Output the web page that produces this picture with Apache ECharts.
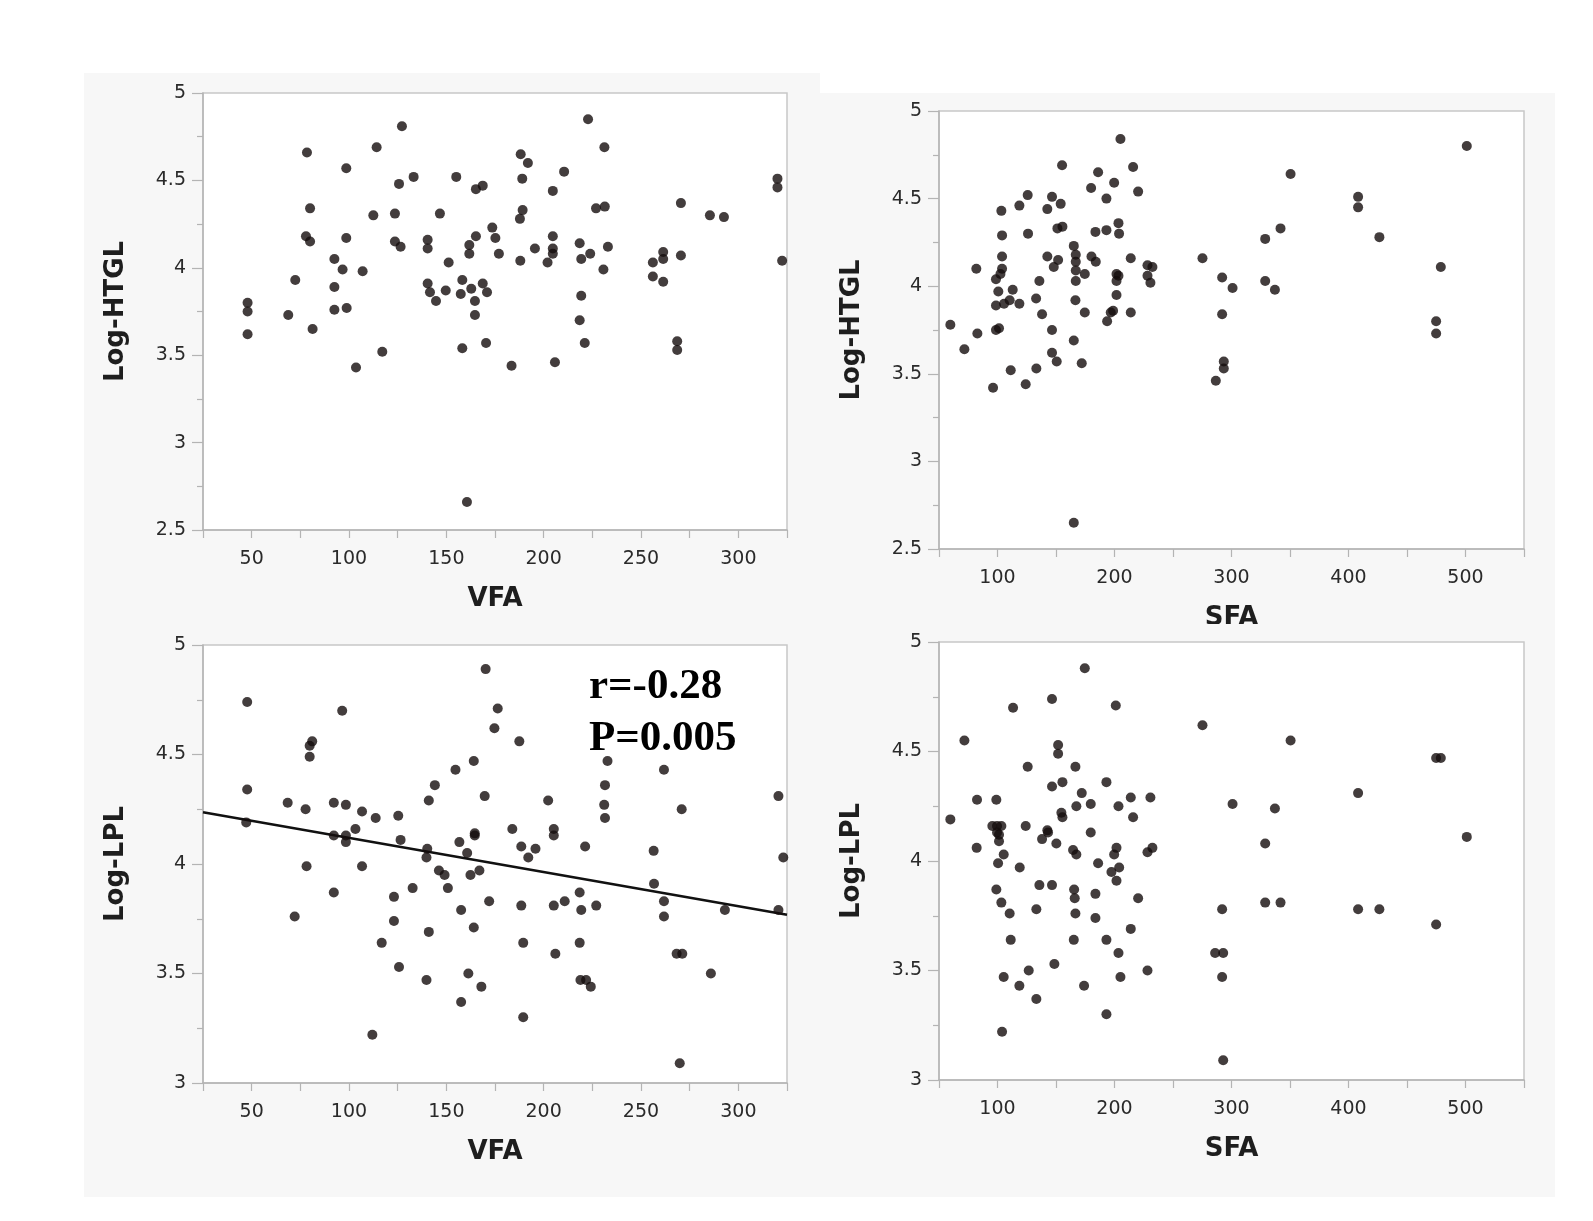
<!DOCTYPE html>
<html>
<head>
<meta charset="utf-8">
<title>VFA / SFA vs Log-HTGL / Log-LPL</title>
<script src="https://cdn.jsdelivr.net/npm/echarts@6/dist/echarts.min.js"></script>
<style>
	html, body { margin: 0; padding: 0; background: #fff; }
	#chart { width: 1593px; height: 1221px; }
</style>
</head>
<body>
<div id="chart"></div>
<script type="text/javascript">
	// VFA - Log-HTGL (top left)
	var vfaHtgl = [
		[47.9,3.80],[47.9,3.75],[47.9,3.62],[68.8,3.73],[72.4,3.93],[78.4,4.66],[80.0,4.34],[77.9,4.18],
		[80.0,4.15],[81.3,3.65],[92.5,4.05],[96.7,3.99],[92.5,3.89],[92.5,3.76],[98.8,3.77],[98.6,4.57],
		[98.6,4.17],[107.0,3.98],[103.6,3.43],[114.2,4.69],[112.5,4.30],[117.1,3.52],[127.2,4.81],[125.7,4.48],
		[123.6,4.31],[123.6,4.15],[126.5,4.12],[133.2,4.52],[140.4,4.16],[140.4,4.11],[146.7,4.31],[151.2,4.03],
		[140.4,3.91],[141.6,3.86],[144.7,3.81],[149.7,3.87],[155.1,4.52],[158.2,3.93],[157.4,3.85],[158.2,3.54],
		[162.8,3.88],[164.7,3.81],[164.7,3.73],[161.8,4.13],[161.8,4.08],[165.2,4.18],[165.2,4.45],[168.7,4.47],
		[168.7,3.91],[170.9,3.86],[170.4,3.57],[173.6,4.23],[175.2,4.17],[177.0,4.08],[183.5,3.44],[188.2,4.65],
		[191.9,4.60],[189.0,4.51],[189.2,4.33],[187.8,4.28],[188.0,4.04],[195.5,4.11],[204.7,4.44],[210.5,4.55],
		[204.7,4.18],[204.7,4.11],[204.7,4.08],[202.0,4.03],[205.8,3.46],[222.8,4.85],[231.2,4.69],[226.9,4.34],
		[231.4,4.35],[218.5,4.14],[223.9,4.08],[219.3,4.05],[233.0,4.12],[230.7,3.99],[219.3,3.84],[218.5,3.70],
		[221.1,3.57],[270.5,4.37],[256.1,4.03],[261.4,4.09],[261.4,4.05],[270.5,4.07],[256.1,3.95],[261.4,3.92],
		[268.6,3.58],[268.6,3.53],[285.4,4.30],[292.6,4.29],[320.1,4.51],[320.1,4.46],[322.5,4.04],[160.6,2.66]
	];

	// SFA - Log-HTGL (top right)
	var sfaHtgl = [
		[59.7,3.78],[71.7,3.64],[81.9,4.10],[82.8,3.73],[96.2,3.42],[98.7,3.89],[98.7,3.75],[101.3,3.76],
		[98.7,4.04],[103.3,4.43],[103.9,4.29],[103.9,4.17],[103.9,4.10],[102.5,4.07],[100.7,3.97],[105.6,3.90],
		[110.4,3.92],[113.0,3.98],[111.3,3.52],[118.7,3.90],[118.7,4.46],[125.8,4.52],[126.1,4.30],[124.1,3.44],
		[133.0,3.93],[135.8,4.03],[138.1,3.84],[133.2,3.53],[142.6,4.44],[142.6,4.17],[146.6,4.51],[154.0,4.47],
		[155.2,4.69],[151.2,4.33],[155.5,4.34],[151.8,4.15],[148.1,4.11],[146.6,3.75],[146.6,3.62],[150.6,3.57],
		[165.2,4.23],[166.9,4.18],[166.9,4.14],[166.9,4.09],[166.9,4.03],[174.6,4.07],[166.6,3.92],[165.2,3.69],
		[174.6,3.85],[172.0,3.56],[165.2,2.65],[180.0,4.56],[186.0,4.65],[183.7,4.31],[180.3,4.17],[184.0,4.14],
		[193.1,4.50],[193.1,4.32],[199.7,4.59],[205.1,4.84],[203.4,4.36],[203.9,4.30],[201.7,4.07],[203.4,4.06],
		[201.7,4.03],[201.7,3.95],[198.8,3.86],[196.8,3.85],[193.7,3.80],[213.9,3.85],[213.9,4.16],[215.9,4.68],
		[220.2,4.54],[228.2,4.12],[232.4,4.11],[228.2,4.06],[230.7,4.02],[275.2,4.16],[292.0,4.05],[300.9,3.99],
		[292.0,3.84],[293.4,3.57],[293.4,3.53],[286.6,3.46],[328.8,4.27],[328.8,4.03],[341.9,4.33],[337.1,3.98],
		[350.5,4.64],[408.2,4.51],[408.2,4.45],[426.4,4.28],[478.9,4.11],[474.9,3.80],[474.9,3.73],[501.1,4.80]
	];

	// VFA - Log-LPL (bottom left)
	var vfaLpl = [
		[47.7,4.74],[47.7,4.34],[47.2,4.19],[68.5,4.28],[72.1,3.76],[77.7,4.25],[78.2,3.99],[79.8,4.49],
		[79.8,4.54],[81.1,4.56],[92.2,4.28],[92.2,4.13],[92.2,3.87],[96.5,4.70],[98.4,4.27],[98.4,4.13],
		[98.4,4.10],[103.3,4.16],[106.7,4.24],[106.7,3.99],[113.7,4.21],[112.0,3.22],[116.8,3.64],[123.1,3.85],
		[123.1,3.74],[125.3,4.22],[126.5,4.11],[125.7,3.53],[132.7,3.89],[139.8,3.47],[141.0,4.29],[141.0,3.69],
		[140.2,4.07],[139.8,4.03],[144.1,4.36],[146.2,3.97],[149.1,3.95],[150.8,3.89],[154.7,4.43],[156.7,4.10],
		[157.6,3.79],[157.6,3.37],[160.7,4.05],[162.4,3.95],[161.3,3.50],[164.1,4.47],[164.6,4.14],[164.6,4.13],
		[164.1,3.71],[170.2,4.89],[176.4,4.71],[174.7,4.62],[187.5,4.56],[169.7,4.31],[167.0,3.97],[172.0,3.83],
		[168.0,3.44],[183.9,4.16],[188.5,4.08],[192.1,4.03],[195.8,4.07],[188.5,3.81],[189.5,3.64],[189.5,3.30],
		[202.3,4.29],[205.2,4.16],[205.2,4.13],[205.2,3.81],[210.8,3.83],[206.0,3.59],[221.3,4.08],[218.5,3.87],
		[219.3,3.79],[227.0,3.81],[218.5,3.64],[218.9,3.47],[221.8,3.47],[224.2,3.44],[232.8,4.47],[231.5,4.36],
		[231.1,4.27],[231.5,4.21],[261.8,4.43],[256.5,4.06],[256.7,3.91],[261.8,3.83],[261.8,3.76],[270.9,4.25],
		[268.3,3.59],[271.2,3.59],[269.9,3.09],[285.9,3.50],[293.1,3.79],[320.6,4.31],[323.1,4.03],[320.6,3.79]
	];

	// SFA - Log-LPL (bottom right)
	var sfaLpl = [
		[59.7,4.19],[71.7,4.55],[82.5,4.28],[82.2,4.06],[99.0,4.28],[95.6,4.16],[99.6,4.16],[103.3,4.16],
		[99.6,4.13],[101.3,4.12],[101.3,4.09],[105.3,4.03],[100.5,3.99],[99.0,3.87],[103.3,3.81],[110.4,3.76],
		[111.3,3.64],[105.3,3.47],[103.9,3.22],[113.3,4.70],[125.8,4.43],[124.1,4.16],[119.0,3.97],[118.7,3.43],
		[126.7,3.50],[133.2,3.37],[133.2,3.78],[135.8,3.89],[146.6,3.89],[146.6,4.74],[151.8,4.53],[151.8,4.49],
		[146.6,4.34],[155.5,4.36],[154.6,4.22],[155.5,4.20],[142.6,4.14],[143.2,4.13],[138.1,4.10],[150.3,4.08],
		[148.6,3.53],[166.6,4.43],[172.0,4.31],[167.4,4.25],[179.7,4.26],[179.7,4.13],[164.6,4.05],[167.4,4.03],
		[186.0,3.99],[165.5,3.87],[166.0,3.83],[166.6,3.76],[183.7,3.85],[183.7,3.74],[165.2,3.64],[174.0,3.43],
		[174.6,4.88],[193.1,4.36],[201.1,4.71],[203.4,4.25],[215.9,4.20],[213.9,4.29],[230.7,4.29],[201.7,4.06],
		[199.7,4.03],[204.0,3.97],[197.4,3.95],[201.7,3.91],[220.2,3.83],[213.9,3.69],[193.1,3.64],[203.4,3.58],
		[205.1,3.47],[193.1,3.30],[228.2,3.50],[228.2,4.04],[232.4,4.06],[275.2,4.62],[300.9,4.26],[292.0,3.78],
		[286.0,3.58],[292.9,3.58],[292.0,3.47],[292.9,3.09],[350.5,4.55],[337.1,4.24],[328.8,4.08],[328.8,3.81],
		[341.9,3.81],[408.2,4.31],[408.2,3.78],[426.4,3.78],[474.9,4.47],[478.9,4.47],[474.9,3.71],[501.1,4.11]
	];

	// 回归直线 (VFA - Log-LPL)
	var fitX = [25, 325];
	var fitY = [4.236, 3.768];

	// 刻度标签
	var vfaLabels = [50, 100, 150, 200, 250, 300];
	var sfaLabels = [100, 200, 300, 400, 500];

	var axisGray = '#b4b4b4';
	var labelFont = 'DejaVu Sans';

	// x 轴
	function makeX(grid, name, min, max, step, labels, z) {
		return {
			type: 'value', gridIndex: grid, min: min, max: max, interval: step, z: z,
			name: name, nameLocation: 'middle', nameGap: 56,
			nameTextStyle: { fontFamily: labelFont, fontWeight: 'bold', fontSize: 26, color: '#1e1e1e' },
			axisLine: { show: true, lineStyle: { color: axisGray, width: 1.5 } },
			axisTick: { show: true, length: 8, lineStyle: { color: axisGray, width: 1.2 } },
			axisLabel: {
				margin: 19.5, fontFamily: labelFont, fontSize: 19, color: '#2a2a2a',
				formatter: function (v) { return labels.indexOf(v) >= 0 ? String(v) : ''; }
			},
			splitLine: { show: false }
		};
	}

	// y 轴
	function makeY(grid, name, min, z) {
		return {
			type: 'value', gridIndex: grid, min: min, max: 5, interval: 0.5, z: z,
			name: name, nameLocation: 'middle', nameGap: 74, nameRotate: 90,
			nameTextStyle: { fontFamily: labelFont, fontWeight: 'bold', fontSize: 26, color: '#1e1e1e' },
			axisLine: { show: true, lineStyle: { color: axisGray, width: 1.5 } },
			axisTick: { show: true, length: 11, lineStyle: { color: axisGray, width: 1.2 } },
			minorTick: { show: true, splitNumber: 2, length: 6, lineStyle: { color: axisGray, width: 1.2 } },
			axisLabel: { margin: 17, fontFamily: labelFont, fontSize: 19, color: '#2a2a2a' },
			splitLine: { show: false },
			minorSplitLine: { show: false }
		};
	}

	function makeGrid(left, top, width, height, z) {
		return {
			left: left, top: top, width: width, height: height, z: z,
			show: true, backgroundColor: '#fff', borderColor: '#c8c8c8', borderWidth: 1.5
		};
	}

	function dots(i, data, z) {
		return {
			type: 'scatter', xAxisIndex: i, yAxisIndex: i, data: data, z: z,
			symbolSize: 10, itemStyle: { color: '#140d0d' }, silent: true
		};
	}

	// 灰色面板背景
	function box(x, y, w, h, z) {
		return { type: 'rect', z: z, silent: true, shape: { x: x, y: y, width: w, height: h }, style: { fill: '#f7f7f7' } };
	}

	var option = {
		animation: false,
		backgroundColor: '#fff',
		grid: [
			makeGrid(203, 93, 584, 437, 2),
			makeGrid(939, 111, 585, 438, 2),
			makeGrid(203, 645, 584, 438, 2),
			makeGrid(939, 642, 585, 438, 6)
		],
		xAxis: [
			makeX(0, 'VFA', 25, 325, 25, vfaLabels, 3),
			makeX(1, 'SFA', 50, 550, 50, sfaLabels, 3),
			makeX(2, 'VFA', 25, 325, 25, vfaLabels, 3),
			makeX(3, 'SFA', 50, 550, 50, sfaLabels, 7)
		],
		yAxis: [
			makeY(0, 'Log-HTGL', 2.5, 3),
			makeY(1, 'Log-HTGL', 2.5, 3),
			makeY(2, 'Log-LPL', 3, 3),
			makeY(3, 'Log-LPL', 3, 7)
		],
		graphic: [
			box(84, 73, 736, 545, 1),
			box(84, 618, 736, 579, 1),
			box(820, 93, 735, 531, 1),
			box(820, 624, 735, 573, 5),
			{ type: 'text', z: 9, x: 589, y: 687, style: { text: 'r=-0.28', font: 'bold 43px "Liberation Serif"', fill: '#000', verticalAlign: 'middle' } },
			{ type: 'text', z: 9, x: 589, y: 739, style: { text: 'P=0.005', font: 'bold 43px "Liberation Serif"', fill: '#000', verticalAlign: 'middle' } }
		],
		series: [
			dots(0, vfaHtgl, 4),
			dots(1, sfaHtgl, 4),
			dots(2, vfaLpl, 4),
			dots(3, sfaLpl, 8),
			{
				type: 'line', xAxisIndex: 2, yAxisIndex: 2, z: 4, silent: true,
				data: fitX.map(function (x, i) { return [x, fitY[i]]; }),
				showSymbol: false, lineStyle: { color: '#111', width: 2.6 }
			}
		]
	};

	var chart = echarts.init(document.getElementById('chart'));
	chart.setOption(option);
</script>
</body>
</html>
